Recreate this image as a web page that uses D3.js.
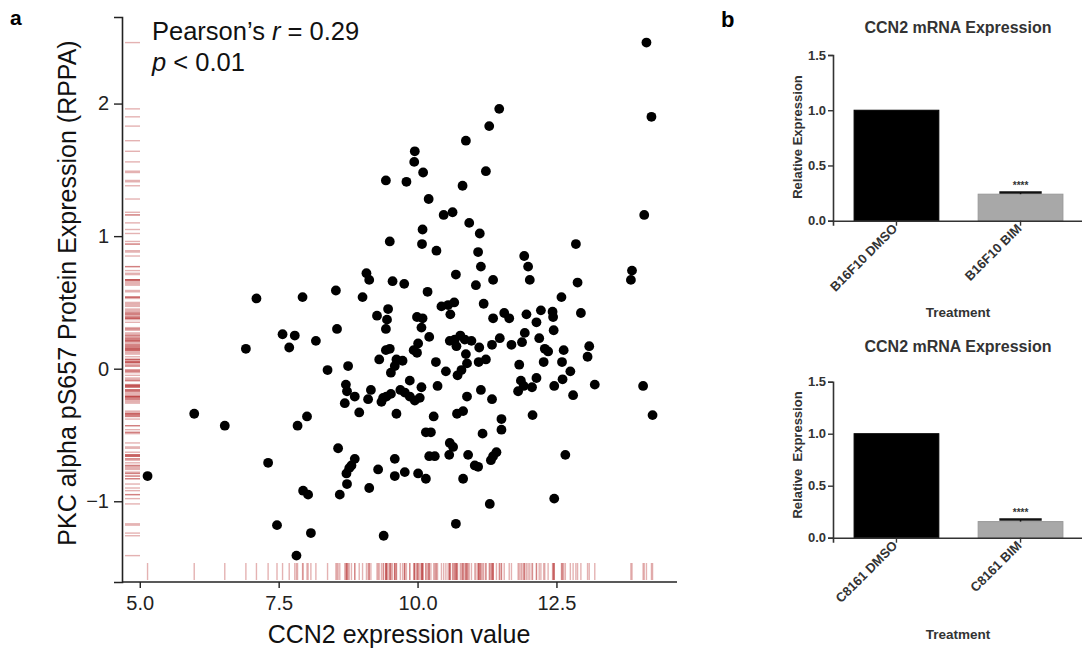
<!DOCTYPE html>
<html><head><meta charset="utf-8">
<script src="https://cdn.jsdelivr.net/npm/d3@7"></script>
<style>
body{margin:0;background:#fff;}
svg{display:block;font-family:Arial,"Liberation Sans",sans-serif;}
</style></head>
<body><svg id="c" width="1082" height="649"></svg>
<script>
// ---- Panel a data: CCN2 expression (x) vs PKC alpha pS657 RPPA (y) ----
const ccn2 = [5.14,5.98,6.53,6.91,7.10,7.31,7.47,7.57,7.79,7.69,7.82,7.84,7.93,7.94,8.01,8.03,8.08,8.17,8.38,8.53,
8.55,8.57,8.60,8.69,8.71,8.73,8.72,8.73,8.75,8.77,8.81,8.87,8.87,8.95,9.01,9.08,9.13,9.13,9.16,9.11,
9.27,9.29,9.31,9.35,9.38,9.44,9.52,9.39,9.43,9.47,9.45,9.43,9.43,9.50,9.50,9.55,9.59,9.59,9.62,9.73,
9.59,9.52,9.62,9.69,9.76,9.77,9.77,9.86,9.95,10.04,9.80,9.86,9.94,9.95,9.93,9.99,9.99,10.09,10.07,10.01,
10.01,10.07,10.08,10.09,10.10,10.15,10.24,10.15,10.18,10.20,10.21,10.21,10.31,10.29,10.33,10.36,10.34,10.43,10.55,10.66,
10.59,10.47,10.63,10.51,10.58,10.67,10.77,10.85,10.97,10.70,10.58,10.64,10.57,10.69,10.69,10.71,10.82,10.81,10.82,10.87,
10.89,10.79,10.72,10.89,10.91,10.87,10.93,11.05,11.09,11.12,11.14,11.11,11.10,11.23,11.14,11.03,11.09,11.17,11.19,11.23,
11.29,11.47,11.36,11.36,11.34,11.48,11.34,11.30,11.42,11.36,11.32,11.51,11.51,11.56,11.65,11.69,11.88,11.83,11.86,11.91,
12.06,11.81,11.92,11.99,12.02,11.93,11.96,12.14,12.22,12.19,12.29,12.35,12.27,12.14,12.07,12.43,12.44,12.45,12.59,12.85,
12.88,12.94,12.63,12.60,12.75,12.61,12.46,12.80,13.09,13.06,13.19,12.66,12.46,13.84,13.86,14.08,14.12,14.21,14.06,14.23];
const pkc = [-0.81,-0.34,-0.43,0.15,0.53,-0.71,-1.18,0.26,0.25,0.16,-1.41,-0.43,0.54,-0.92,-0.36,-0.95,-1.24,0.21,-0.01,0.59,
0.30,-0.60,-0.95,-0.26,-0.12,-0.17,-0.79,-0.87,0.02,-0.75,-0.73,-0.68,-0.21,-0.33,0.54,0.72,0.67,-0.90,-0.16,-0.23,
0.40,-0.76,0.07,-0.25,-0.22,-0.21,-0.19,-1.26,1.42,0.45,0.37,0.30,0.14,0.15,0.96,0.66,-0.68,-0.81,0.07,0.06,
0.02,-0.03,-0.34,-0.16,0.64,-0.78,-0.18,-0.21,-0.24,-0.22,1.41,-0.09,1.56,1.64,0.14,0.12,0.39,0.38,0.31,0.19,
-0.79,-0.14,0.94,1.05,1.48,-0.48,-0.48,-0.83,0.58,1.28,0.24,-0.66,-0.66,-0.36,0.05,-0.13,0.89,0.47,0.48,0.50,
0.41,1.16,1.18,-0.02,0.21,0.22,0.25,0.22,0.21,0.17,-0.56,-0.59,-0.65,0.71,-1.17,-0.34,-0.32,1.38,-0.83,0.11,
0.04,-0.01,-0.05,-0.21,-0.65,1.72,1.10,0.63,0.88,1.02,0.77,0.16,0.05,0.07,-0.16,-0.73,-0.74,-0.49,0.49,1.49,
1.83,1.96,0.67,0.38,0.18,0.23,-0.23,-1.02,-0.63,-0.66,-0.69,-0.38,-0.46,0.42,0.38,0.18,0.20,0.03,-0.09,-0.13,
-0.14,-0.17,0.85,0.77,0.67,0.27,0.41,0.35,0.44,0.23,0.15,0.13,0.05,-0.07,-0.35,0.43,0.39,0.29,0.54,0.94,
0.65,0.42,0.14,0.05,-0.02,-0.08,-0.13,-0.20,0.17,0.09,-0.12,-0.65,-0.98,0.67,0.74,1.16,2.46,1.90,-0.13,-0.35];
const aXTicks = [5.0, 7.5, 10.0, 12.5];
const aYTicks = [-1, 0, 1, 2];

// ---- Panel b data ----
const b1Cats = ["B16F10 DMSO", "B16F10 BIM"];
const b1Vals = [1.0, 0.24];
const b1Err  = [0, 0.015];
const b2Cats = ["C8161 DMSO", "C8161 BIM"];
const b2Vals = [1.0, 0.155];
const b2Err  = [0, 0.02];
const bYTicks = [0, 0.5, 1.0, 1.5];
const bColors = ["#000000", "#a8a8a8"];

const svg = d3.select("#c");

// ================= Panel a =================
const x = d3.scaleLinear().domain([4.68, 14.67]).range([122, 677]);
const y = d3.scaleLinear().domain([-1.609, 2.653]).range([582, 17]);
const pts = ccn2.map((v,i)=>({x:v, y:pkc[i]}));

const ga = svg.append("g");
// rugs
ga.append("g").selectAll("line").data(pts).join("line")
  .attr("x1", d=>x(d.x)).attr("x2", d=>x(d.x))
  .attr("y1", 563).attr("y2", 580)
  .attr("stroke", "rgb(178,34,34)").attr("stroke-opacity", 0.35).attr("stroke-width", 1.4);
ga.append("g").selectAll("line").data(pts).join("line")
  .attr("y1", d=>y(d.y)).attr("y2", d=>y(d.y))
  .attr("x1", 125).attr("x2", 140)
  .attr("stroke", "rgb(178,34,34)").attr("stroke-opacity", 0.35).attr("stroke-width", 1.4);
// points
ga.append("g").selectAll("circle").data(pts).join("circle")
  .attr("cx", d=>x(d.x)).attr("cy", d=>y(d.y)).attr("r", 4.9).attr("fill", "#000");

// axes
const axX = ga.append("g").attr("transform", "translate(0,582)")
  .call(d3.axisBottom(x).tickValues(aXTicks).tickFormat(d3.format(".1f")).tickSizeOuter(0).tickSize(6).tickPadding(8));
const axY = ga.append("g").attr("transform", "translate(122,0)")
  .call(d3.axisLeft(y).tickValues(aYTicks).tickFormat(d3.format("d")).tickSizeOuter(0).tickSize(8).tickPadding(5));
[axX, axY].forEach(a=>{
  a.select(".domain").attr("stroke", "#222").attr("stroke-width", 1.6);
  a.selectAll(".tick line").attr("stroke", "#222").attr("stroke-width", 1.4);
  a.selectAll(".tick text").attr("font-size", 20).attr("fill", "#222").attr("font-family", "Arial,'Liberation Sans',sans-serif");
});
// full-length axis lines
axX.select(".domain").attr("d", "M0,0H" + 0);
ga.append("line").attr("x1",122).attr("x2",677).attr("y1",582).attr("y2",582).attr("stroke","#222").attr("stroke-width",1.6);

ga.append("text").attr("x", 399).attr("y", 643).attr("text-anchor", "middle")
  .attr("font-size", 25).attr("fill", "#111").text("CCN2 expression value");
ga.append("text").attr("transform", "translate(76,293) rotate(-90)").attr("text-anchor", "middle")
  .attr("font-size", 25).attr("fill", "#111").text("PKC alpha pS657 Protein Expression (RPPA)");

const t1 = ga.append("text").attr("x", 152).attr("y", 40).attr("font-size", 25.5).attr("fill", "#111");
t1.append("tspan").text("Pearson\u2019s ");
t1.append("tspan").attr("font-style", "italic").text("r");
t1.append("tspan").text(" = 0.29");
const t2 = ga.append("text").attr("x", 152).attr("y", 71).attr("font-size", 25.5).attr("fill", "#111");
t2.append("tspan").attr("font-style", "italic").text("p");
t2.append("tspan").text(" < 0.01");

svg.append("text").attr("x", 10).attr("y", 25).attr("font-size", 21).attr("font-weight", "bold").text("a");
svg.append("text").attr("x", 721).attr("y", 27).attr("font-size", 22).attr("font-weight", "bold").text("b");

// ================= Panel b =================
function barChart(cats, vals, errs, y0, y1, titleY, labelY, xTitleY) {
  const g = svg.append("g");
  const bx = d3.scaleBand().domain(cats).range([833, 1084]).paddingInner(0.317).paddingOuter(0.17);
  const by = d3.scaleLinear().domain([0, 1.5]).range([y0, y1]);
  const data = cats.map((c,i)=>({c, v:vals[i], e:errs[i], col:bColors[i]}));
  g.selectAll("rect").data(data).join("rect")
    .attr("x", d=>bx(d.c)).attr("width", bx.bandwidth())
    .attr("y", d=>by(d.v)).attr("height", d=>by(0)-by(d.v))
    .attr("fill", d=>d.col).attr("stroke", d=>d.col==="#000000"?"#000":"#999").attr("stroke-width", 1);
  // error bars
  const eb = data.filter(d=>d.e>0);
  g.selectAll("line.eb").data(eb).join("line").attr("class","eb")
    .attr("x1", d=>bx(d.c)+bx.bandwidth()/2).attr("x2", d=>bx(d.c)+bx.bandwidth()/2)
    .attr("y1", d=>by(d.v)).attr("y2", d=>by(d.v+d.e)).attr("stroke", "#111").attr("stroke-width", 1.5);
  g.selectAll("line.cap").data(eb).join("line").attr("class","cap")
    .attr("x1", d=>bx(d.c)+bx.bandwidth()*0.25).attr("x2", d=>bx(d.c)+bx.bandwidth()*0.75)
    .attr("y1", d=>by(d.v+d.e)).attr("y2", d=>by(d.v+d.e)).attr("stroke", "#111").attr("stroke-width", 2.5);
  g.selectAll("text.star").data(eb).join("text").attr("class","star")
    .attr("x", d=>bx(d.c)+bx.bandwidth()/2).attr("y", d=>by(d.v+d.e)-4)
    .attr("text-anchor","middle").attr("font-size", 10).attr("fill","#333").attr("font-weight","bold").text("****");
  // axes
  const ay = g.append("g").attr("transform", "translate(833,0)")
    .call(d3.axisLeft(by).tickValues(bYTicks).tickFormat(d3.format(".1f")).tickSizeOuter(0).tickSize(5).tickPadding(2));
  const ax = g.append("g").attr("transform", `translate(0,${y0})`)
    .call(d3.axisBottom(bx).tickSizeOuter(0).tickSize(5).tickPadding(3));
  [ax, ay].forEach(a=>{
    a.select(".domain").attr("stroke", "#333").attr("stroke-width", 1.6);
    a.selectAll(".tick line").attr("stroke", "#333").attr("stroke-width", 1.4);
    a.selectAll(".tick text").attr("font-size", 13).attr("font-weight", "bold").attr("fill", "#333")
      .attr("font-family", "Arial,'Liberation Sans',sans-serif");
  });
  ax.selectAll(".tick text").attr("text-anchor", "end").attr("dy", "0.35em")
    .attr("transform", "translate(0,4) rotate(-45)").attr("y", 0).attr("x", -2);
  g.append("text").attr("x", 958).attr("y", titleY).attr("text-anchor", "middle")
    .attr("font-size", 16).attr("font-weight", "bold").attr("fill", "#333").text("CCN2 mRNA Expression");
  g.append("text").attr("transform", `translate(802,${labelY}) rotate(-90)`).attr("text-anchor", "middle")
    .attr("font-size", 13).attr("font-weight", "bold").attr("fill", "#333").attr("xml:space","preserve")
    .text(cats[0].startsWith("C8161") ? "Relative  Expression" : "Relative Expression");
  g.append("text").attr("x", 958).attr("y", xTitleY).attr("text-anchor", "middle")
    .attr("font-size", 13.5).attr("font-weight", "bold").attr("fill", "#333").text("Treatment");
}
barChart(b1Cats, b1Vals, b1Err, 220.7, 55, 33, 137, 317);
barChart(b2Cats, b2Vals, b2Err, 537.7, 381.7, 352, 455, 639);
</script></body></html>
